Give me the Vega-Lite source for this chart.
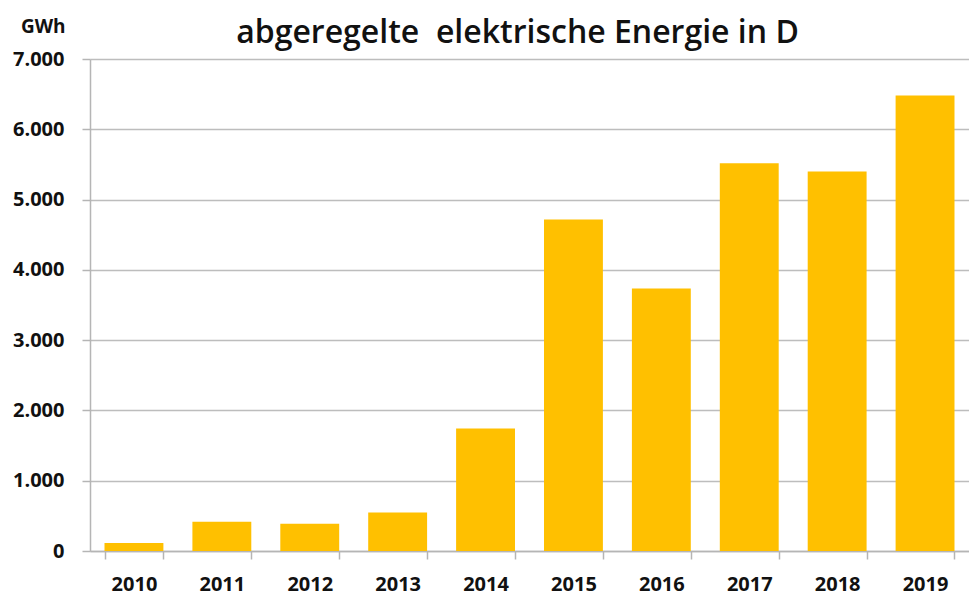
{
  "$schema": "https://vega.github.io/schema/vega-lite/v6.json",
  "autosize": "none",
  "width": 879,
  "height": 492,
  "padding": {"left": 90, "top": 59, "right": 0, "bottom": 45},
  "background": "white",
  "title": {
    "text": "abgeregelte\u00a0 elektrische Energie in D",
    "font": "Open Sans",
    "fontSize": 32,
    "fontWeight": 600,
    "color": "#111111",
    "anchor": "middle",
    "frame": "group",
    "dx": -12,
    "baseline": "alphabetic",
    "offset": -58
  },
  "data": {
    "values": [
      {"Jahr": "2010", "GWh": 115},
      {"Jahr": "2011", "GWh": 417},
      {"Jahr": "2012", "GWh": 388},
      {"Jahr": "2013", "GWh": 549},
      {"Jahr": "2014", "GWh": 1744},
      {"Jahr": "2015", "GWh": 4716},
      {"Jahr": "2016", "GWh": 3734},
      {"Jahr": "2017", "GWh": 5516},
      {"Jahr": "2018", "GWh": 5398},
      {"Jahr": "2019", "GWh": 6481}
    ]
  },
  "mark": {"type": "bar", "color": "#FFC000"},
  "encoding": {
    "x": {
      "field": "Jahr",
      "type": "ordinal",
      "scale": {"paddingInner": 0.33, "paddingOuter": 0.165},
      "axis": {
        "title": null,
        "labelAngle": 0,
        "tickBand": "extent",
        "tickSize": 8,
        "labelPadding": 25,
        "labelBaseline": "middle",
        "labelFontSize": 20,
        "grid": false
      }
    },
    "y": {
      "field": "GWh",
      "type": "quantitative",
      "scale": {"domain": [0, 7000], "nice": false},
      "axis": {
        "values": [0, 1000, 2000, 3000, 4000, 5000, 6000, 7000],
        "labelExpr": "replace(format(datum.value, ','), ',', '.')",
        "tickSize": 8,
        "labelPadding": 18,
        "title": "GWh",
        "titleAngle": 0,
        "titleAlign": "right",
        "titleBaseline": "alphabetic",
        "titleX": -25,
        "titleY": -27,
        "titleFont": "Open Sans",
        "titleFontSize": 19,
        "titleFontWeight": "bold",
        "titleColor": "#111111",
        "grid": true
      }
    }
  },
  "config": {
    "view": {"stroke": null},
    "axis": {
      "labelFont": "Open Sans",
      "labelFontSize": 20,
      "labelFontWeight": "bold",
      "labelColor": "#111111",
      "domainColor": "#b5b5b5",
      "domainWidth": 1.5,
      "tickColor": "#b5b5b5",
      "tickWidth": 1.5,
      "gridColor": "#bdbdbd",
      "gridWidth": 1.5
    }
  }
}
